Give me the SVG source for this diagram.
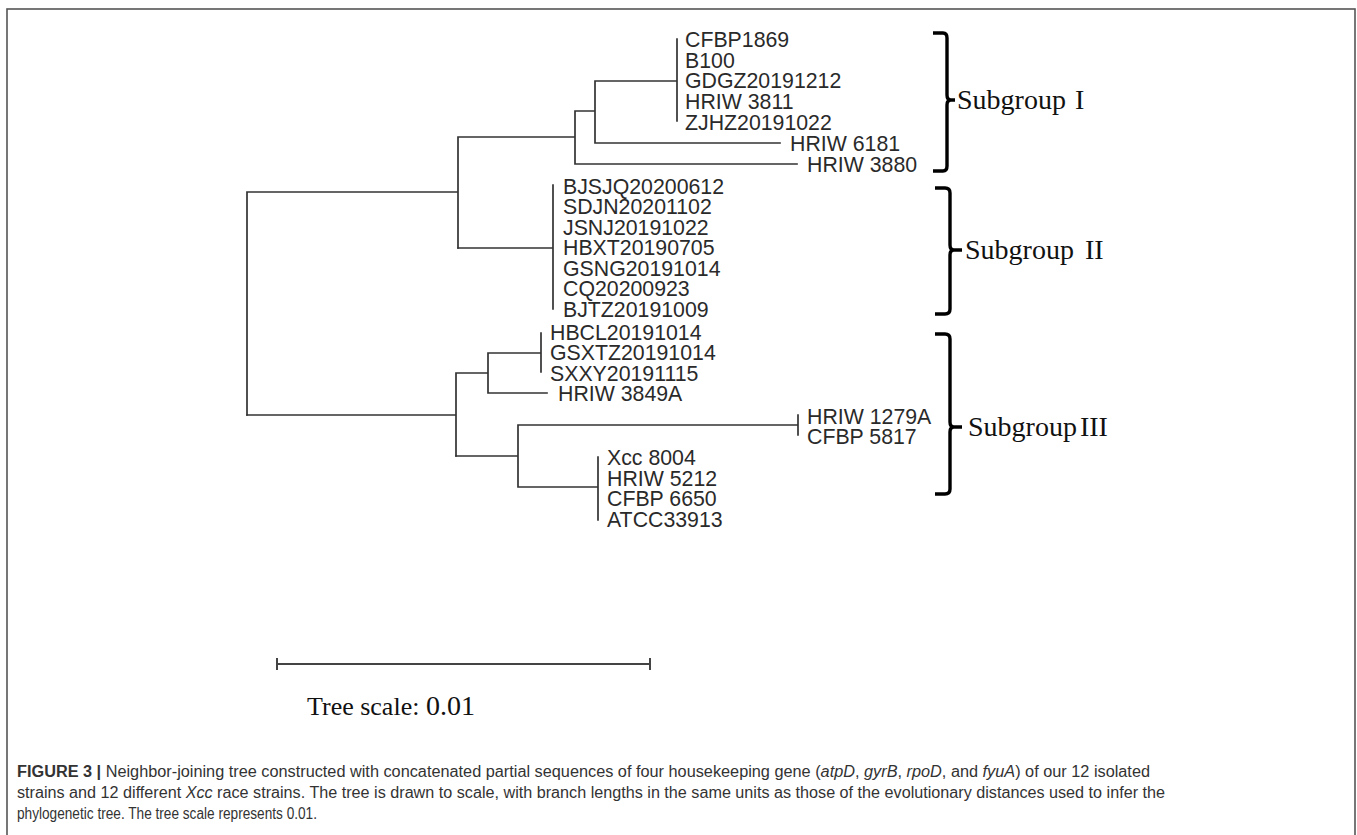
<svg xmlns="http://www.w3.org/2000/svg" width="1357" height="835" viewBox="0 0 1357 835">
<style>
.br{fill:none;stroke:#333;stroke-width:1.7;stroke-linecap:square}
.lb{font-family:"Liberation Sans",Arial,sans-serif;font-size:21.3px;fill:#2a2a2a}
.bk{fill:none;stroke:#000;stroke-width:3.4;stroke-linecap:butt;stroke-linejoin:round}
.sg{font-family:"Liberation Serif","Times New Roman",serif;font-size:28px;fill:#111}
.cap{font-family:"Liberation Sans",Arial,sans-serif;font-size:16px;fill:#333}
.ts{font-family:"Liberation Serif","Times New Roman",serif;fill:#111}
</style>
<rect x="7" y="9" width="1348" height="840" fill="#fff" stroke="#555" stroke-width="1.6"/>
<g id="connectors">
<path class="br" d="M247 192V415 M247 192H458 M458 137V248 M458 137H575 M575 111V164 M575 164H797 M575 111H595 M595 81V143 M595 143H780 M595 81H677 M677 39V121"/>
<path class="br" d="M458 248H553 M553 185V309"/>
<path class="br" d="M247 415H456 M456 373V456 M456 373H488 M488 353V393 M488 353H541 M541 333V372 M488 393H547"/>
<path class="br" d="M456 456H518 M518 425V487 M518 425H798 M798 415V435 M518 487H598 M598 457V520"/>
</g>
<g id="clade-I">
<text class="lb" x="685" y="46.7">CFBP1869</text>
<text class="lb" x="685" y="67.5">B100</text>
<text class="lb" x="685" y="88.2">GDGZ20191212</text>
<text class="lb" x="685" y="109">HRIW 3811</text>
<text class="lb" x="685" y="129.7">ZJHZ20191022</text>
</g>
<g id="leaf-HRIW6181"><text class="lb" x="790" y="150.7">HRIW 6181</text></g>
<g id="leaf-HRIW3880"><text class="lb" x="807" y="171.7">HRIW 3880</text></g>
<g id="clade-II">
<text class="lb" x="563" y="193.7">BJSJQ20200612</text>
<text class="lb" x="563" y="214.2">SDJN20201102</text>
<text class="lb" x="563" y="234.7">JSNJ20191022</text>
<text class="lb" x="563" y="255.2">HBXT20190705</text>
<text class="lb" x="563" y="275.7">GSNG20191014</text>
<text class="lb" x="563" y="296.2">CQ20200923</text>
<text class="lb" x="563" y="316.7">BJTZ20191009</text>
</g>
<g id="clade-HBCL">
<text class="lb" x="550" y="339.7">HBCL20191014</text>
<text class="lb" x="550" y="360.2">GSXTZ20191014</text>
<text class="lb" x="550" y="380.7">SXXY20191115</text>
</g>
<g id="leaf-HRIW3849A"><text class="lb" x="558" y="401.2">HRIW 3849A</text></g>
<g id="clade-HRIW1279A">
<text class="lb" x="807" y="423.7">HRIW 1279A</text>
<text class="lb" x="807" y="443.7">CFBP 5817</text>
</g>
<g id="clade-Xcc8004">
<text class="lb" x="607" y="464.7">Xcc 8004</text>
<text class="lb" x="607" y="485.7">HRIW 5212</text>
<text class="lb" x="607" y="506.2">CFBP 6650</text>
<text class="lb" x="607" y="526.7">ATCC33913</text>
</g>
<g id="subgroup-I">
<path class="bk" d="M933 33H943Q947 33 947 38V95Q947 100 951 100H955M951 100Q947 100 947 105V166Q947 171 943 171H933"/>
<text class="sg" x="957" y="109">Subgroup<tspan dx="9">I</tspan></text>
</g>
<g id="subgroup-II">
<path class="bk" d="M935 188H945Q950 188 950 193V245Q950 250 954 250H962M954 250Q950 250 950 255V309Q950 314 945 314H935"/>
<text class="sg" x="965" y="259">Subgroup<tspan dx="11">II</tspan></text>
</g>
<g id="subgroup-III">
<path class="bk" d="M935 334H945Q950 334 950 339V422Q950 427 954 427H962M954 427Q950 427 950 432V489Q950 494 945 494H935"/>
<text class="sg" x="968" y="436">Subgroup<tspan dx="3">III</tspan></text>
</g>
<g id="scale-bar">
<path d="M277 664H650 M277 658V670 M650 658V670" fill="none" stroke="#444" stroke-width="2"/>
<text class="ts" x="307" y="715" font-size="26">Tree scale: <tspan font-size="28">0.01</tspan></text>
</g>
<g id="caption">
<text class="cap" x="17" y="777" textLength="1133" lengthAdjust="spacingAndGlyphs"><tspan font-weight="bold">FIGURE 3 |</tspan> Neighbor-joining tree constructed with concatenated partial sequences of four housekeeping gene (<tspan font-style="italic">atpD</tspan>, <tspan font-style="italic">gyrB</tspan>, <tspan font-style="italic">rpoD</tspan>, and <tspan font-style="italic">fyuA</tspan>) of our 12 isolated</text>
<text class="cap" x="17" y="798" textLength="1148" lengthAdjust="spacingAndGlyphs">strains and 12 different <tspan font-style="italic">Xcc</tspan> race strains. The tree is drawn to scale, with branch lengths in the same units as those of the evolutionary distances used to infer the</text>
<text class="cap" x="17" y="819" textLength="300" lengthAdjust="spacingAndGlyphs">phylogenetic tree. The tree scale represents 0.01.</text>
</g>
</svg>
